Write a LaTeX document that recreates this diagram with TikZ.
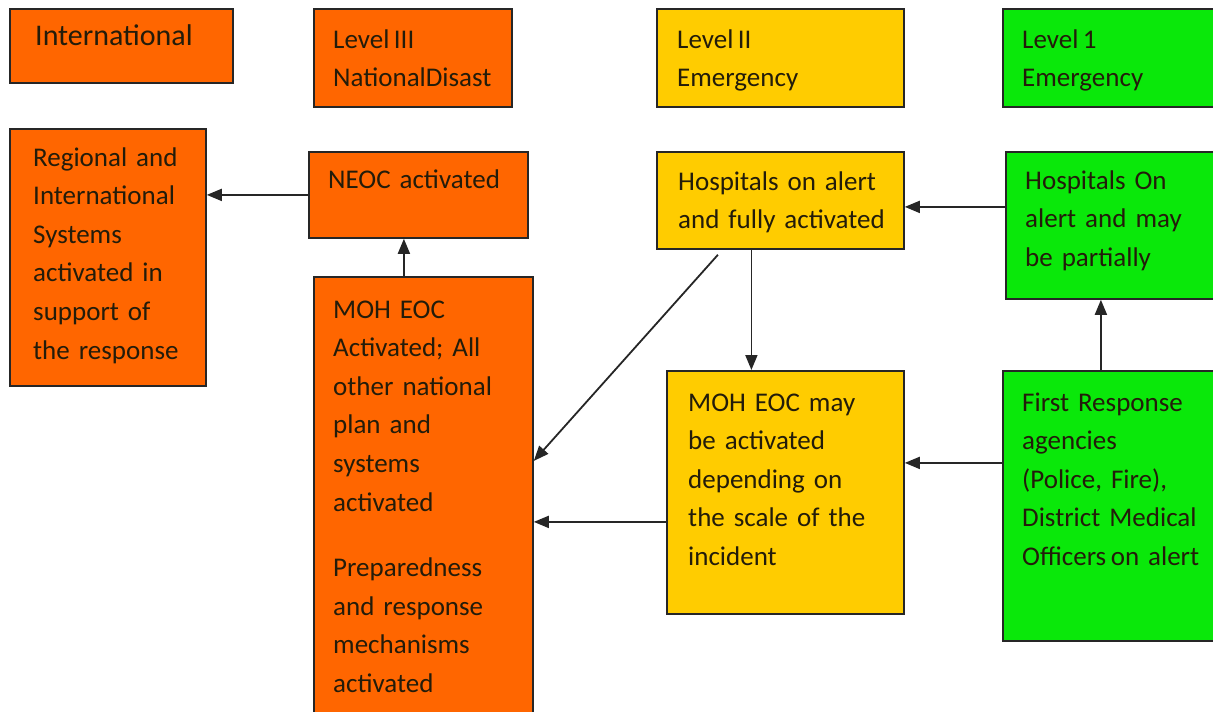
\documentclass[tikz,border=0pt]{standalone}
\usepackage{fontspec}
\setmainfont{Carlito}
\usetikzlibrary{arrows.meta,positioning,calc}
\definecolor{level3_color}{RGB}{255,102,0}
\definecolor{level2_color}{RGB}{255,204,0}
\definecolor{level1_color}{RGB}{10,232,10}
\definecolor{text_color}{RGB}{35,28,10}
\tikzset{
  levelbox/.style={
    draw=black!85, line width=1.8pt, anchor=north west, inner sep=0pt
  },
  level3/.style={levelbox, fill=level3_color},
  level2/.style={levelbox, fill=level2_color},
  level1/.style={levelbox, fill=level1_color},
  boxtext/.style={
    anchor=base west, inner sep=0pt, text width=300pt, align=left,
    text=text_color, font=\fontsize{27}{38.6}\selectfont
  },
  levellink/.style={-{Triangle[length=15pt,width=12pt]}, line width=1.8pt, black!85}
}

\begin{document}
\begin{tikzpicture}[x=1pt, y=1pt]
\useasboundingbox (0,0) rectangle (1213,-712);

% top row: response levels
\node[level3, minimum width=223pt, minimum height=74pt] (intl) at (9,-8) {};
\node[boxtext, font=\fontsize{30}{38.6}\selectfont] (intl_txt) at ($(intl.north west) + (26,-37)$) {International};
\node[level3, minimum width=198pt, minimum height=98pt] (lvl3) at (313,-8) {};
\node[boxtext] (lvl3_txt) at ($(lvl3.north west) + (20,-40)$) {Level\,III\\NationalDisast};
\node[level2, minimum width=247pt, minimum height=98pt] (lvl2) at (656,-8) {};
\node[boxtext] (lvl2_txt) at ($(lvl2.north west) + (21,-40)$) {Level\,II\\Emergency};
\node[level1, minimum width=215pt, minimum height=98pt] (lvl1) at (1002,-8) {};
\node[boxtext] (lvl1_txt) at ($(lvl1.north west) + (20,-40)$) {Level\,1\\Emergency};

% second row
\node[level3, minimum width=196pt, minimum height=257pt] (region) at (9,-128) {};
\node[boxtext] (region_txt) at ($(region.north west) + (24,-38)$) {Regional and\\International\\Systems\\activated in\\support of\\the response};
\node[level3, minimum width=219pt, minimum height=86pt] (neoc) at (308,-151) {};
\node[boxtext] (neoc_txt) at ($(neoc.north west) + (20,-37)$) {NEOC activated};
\node[level2, minimum width=247pt, minimum height=97pt] (hosp2) at (656,-151) {};
\node[boxtext] (hosp2_txt) at ($(hosp2.north west) + (22,-39)$) {Hospitals on alert\\and fully activated};
\node[level1, minimum width=215pt, minimum height=147pt] (hosp1) at (1005,-151) {};
\node[boxtext] (hosp1_txt) at ($(hosp1.north west) + (20,-38)$) {Hospitals On\\alert and may\\be partially};

% third row
\node[level3, minimum width=219pt, minimum height=445pt] (mohbig) at (313,-276) {};
\node[boxtext] (mohbig_txt) at ($(mohbig.north west) + (20,-42)$) {MOH EOC\\Activated; All\\other national\\plan and\\systems\\activated\\[27pt]Preparedness\\and response\\mechanisms\\activated};
\node[level2, minimum width=237pt, minimum height=243pt] (mohmay) at (666,-370) {};
\node[boxtext] (mohmay_txt) at ($(mohmay.north west) + (22,-41)$) {MOH EOC may\\be activated\\depending on\\the scale of the\\incident};
\node[level1, minimum width=215pt, minimum height=270pt] (first) at (1002,-370) {};
\node[boxtext] (first_txt) at ($(first.north west) + (20,-41)$) {First Response\\agencies\\(Police, Fire),\\District Medical\\Officers\,on alert};

% escalation links
\draw[levellink] (neoc.west) -- (neoc.west -| region.east);
\draw[levellink] ([xshift=-19.5pt]mohbig.north) -- ([xshift=-19.5pt]mohbig.north |- neoc.south);
\draw[levellink] ([xshift=-29pt]hosp2.south) -- ([xshift=-29pt]hosp2.south |- mohmay.north);
\draw[levellink] ([xshift=-62.5pt, yshift=-5pt]hosp2.south) -- ([yshift=38.5pt]mohbig.east);
\draw[levellink] ([yshift=-29.5pt]mohmay.west) -- ([yshift=-29.5pt]mohmay.west -| mohbig.east);
\draw[levellink] ([yshift=18.5pt]hosp1.west) -- ([yshift=18.5pt]hosp1.west -| hosp2.east);
\draw[levellink] ([xshift=-9.5pt]first.north) -- ([xshift=-9.5pt]first.north |- hosp1.south);
\draw[levellink] ([yshift=43pt]first.west) -- ([yshift=43pt]first.west -| mohmay.east);

\end{tikzpicture}
\end{document}
